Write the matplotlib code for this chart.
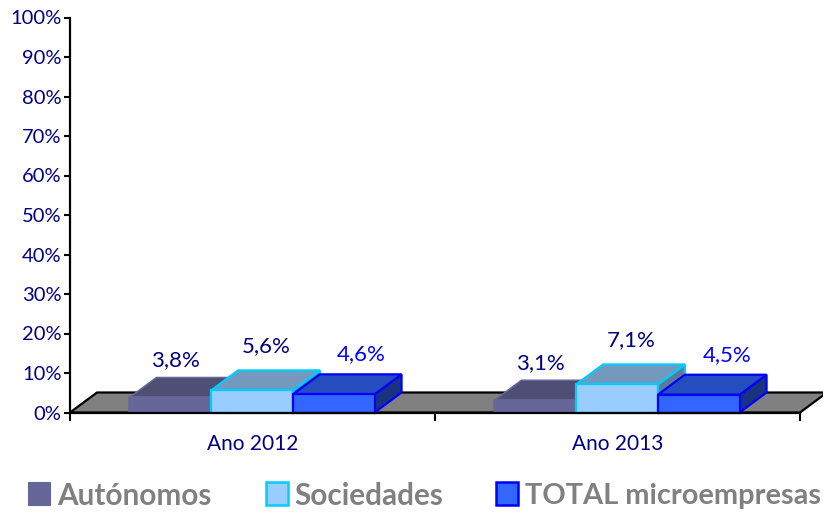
import matplotlib
matplotlib.use("Agg")
import matplotlib.pyplot as plt
from matplotlib.patches import Polygon, Rectangle

# ---- data
categories = ["Ano 2012", "Ano 2013"]
series_names = ["Autónomos", "Sociedades", "TOTAL microempresas"]
autonomos = [3.8, 3.1]
sociedades = [5.6, 7.1]
total_micro = [4.6, 4.5]
y_ticks = list(range(0, 101, 10))

# ---- style
W, H = 823, 512
DPI = 100
FONT = "Lato"
front_c = ["#666699", "#99CCFF", "#3366FF"]
top_c = ["#4F4F75", "#7399BF", "#264DBF"]
side_c = ["#3D3D5C", "#5C7A99", "#1A3380"]
edge_c = ["#666699", "#00CCFF", "#0000FF"]
label_c = ["#000080", "#000080", "#0000FF"]
# label offsets in px from (bar centre, bar front top)
label_off = [(5, 37), (14, 44), (28, 40)]

fig = plt.figure(figsize=(W / DPI, H / DPI), dpi=DPI)
x0, x1, y0, y1 = 70, 800, 412.5, 17.5
ax = fig.add_axes([x0 / W, 1 - y0 / H, (x1 - x0) / W, (y0 - y1) / H])
ax.set_xlim(0, 2)
ax.set_ylim(0, 100)
ax.patch.set_visible(False)

px_x = 2 / (x1 - x0)
px_y = 100 / (y0 - y1)
DX, DY = 27 * px_x, 20 * px_y
bar_w = 81.7 * px_x
shift = -0.5 * px_x


def poly(pts, fc, ec, lw, z):
    ax.add_patch(Polygon(pts, closed=True, facecolor=fc, edgecolor=ec,
                         linewidth=lw, joinstyle="miter", clip_on=False, zorder=z))


# floor
poly([(0, 0), (2, 0), (2 + DX, DY), (DX, DY)], "#808080", "black", 1.6, 1)

z = 2
for i, cat in enumerate(categories):
    for j, vals in enumerate([autonomos, sociedades, total_micro]):
        v = vals[i]
        l = i + 0.5 + shift + (j - 1.5) * bar_w
        r = l + bar_w
        lw = 1.1 if j == 0 else 1.6
        poly([(r, 0), (r + DX, DY), (r + DX, v + DY), (r, v)], side_c[j], edge_c[j], lw, z)
        poly([(l, v), (r, v), (r + DX, v + DY), (l + DX, v + DY)], top_c[j], edge_c[j], lw, z + 1)
        poly([(l, 0), (r, 0), (r, v), (l, v)], front_c[j], edge_c[j], lw, z + 2)
        z += 3
        ox, oy = label_off[j]
        ax.annotate(f"{v:.1f}%".replace(".", ","), xy=((l + r) / 2, v),
                    xytext=(ox * 72 / DPI, oy * 72 / DPI), textcoords="offset points",
                    ha="center", va="center", color=label_c[j], fontsize=16,
                    family=FONT, annotation_clip=False, zorder=50)

# axes
for s in ["top", "right"]:
    ax.spines[s].set_visible(False)
for s in ["left", "bottom"]:
    ax.spines[s].set_linewidth(1.6)
    ax.spines[s].set_zorder(30)
ax.set_yticks(y_ticks)
ax.set_yticklabels([f"{t}%" for t in y_ticks], family=FONT, fontsize=14.5, color="#000080")
ax.set_xticks([0, 1, 2])
ax.set_xticklabels([])
ax.tick_params(axis="y", length=4.5, width=1.5, pad=1.5, color="black")
ax.tick_params(axis="x", length=6, width=1.5, color="black")
for i, cat in enumerate(categories):
    ax.annotate(cat, xy=(i + 0.5, 0), xytext=(0, -31 * 72 / DPI), textcoords="offset points",
                ha="center", va="center", family=FONT, fontsize=15, color="#000080",
                annotation_clip=False)

# legend
sw_x = [28, 266, 496]
txt_x = [57, 294, 525]
txt_size = [21.4, 21.4, 20.9]
for j, name in enumerate(series_names):
    fig.add_artist(Rectangle((sw_x[j] / W, 1 - 505 / H), 22 / W, 23 / H, transform=fig.transFigure,
                             facecolor=front_c[j], edgecolor=edge_c[j],
                             linewidth=0.8 if j == 0 else 1.8))
    fig.text(txt_x[j] / W, 1 - 496 / H, name, family=FONT, fontweight="bold", fontsize=txt_size[j],
             color="#808080", ha="left", va="center")

fig.savefig("out.png", dpi=DPI)
